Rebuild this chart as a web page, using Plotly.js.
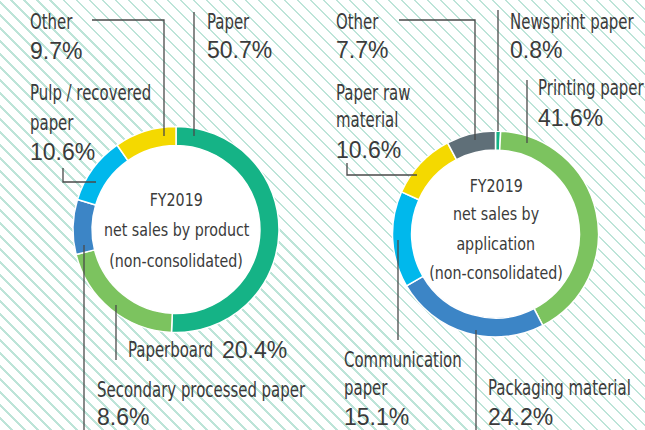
<!DOCTYPE html>
<html>
<head>
<meta charset="utf-8">
<script src="https://cdn.plot.ly/plotly-3.0.1.min.js"></script>
<style>
html,body{margin:0;padding:0;width:645px;height:430px;overflow:hidden;
background:#ffffff repeating-linear-gradient(45deg,#ffffff 0px,#ffffff 7.5px,#bde4d8 7.5px,#bde4d8 9.2px);}
#chart{width:645px;height:430px;}
</style>
</head>
<body>
<div id="chart"></div>
<script>
// ---- data ----
const productLabels = ['Paper', 'Paperboard', 'Secondary processed paper', 'Pulp / recovered paper', 'Other'];
const productValues = [50.7, 20.4, 8.6, 10.6, 9.7];
const applicationLabels = ['Newsprint paper', 'Printing paper', 'Packaging material', 'Communication paper', 'Paper raw material', 'Other'];
const applicationValues = [0.8, 41.6, 24.2, 15.1, 10.6, 7.7];
const productTitle = ['FY2019', 'net sales by product', '(non-consolidated)'];
const applicationTitle = ['FY2019', 'net sales by', 'application', '(non-consolidated)'];

// ---- styles ----
const productColors = ['#15b386', '#7cc35f', '#3c85c6', '#00b8ec', '#f4d900'];
const applicationColors = ['#15b386', '#7cc35f', '#3c85c6', '#00b8ec', '#f4d900', '#5f6f78'];
const W = 645, H = 430;
const px = x => x / W;
const py = y => 1 - y / H;
const TXT = '#3b3b3b';
const NARROW = '"DejaVu Sans Condensed", "DejaVu Sans", sans-serif';
const REG = '"Liberation Sans", Arial, sans-serif';
const LABEL_SIZE = 20.5, LABEL_SQUEEZE = 0.81;
const CENTER_SIZE = 18, CENTER_SQUEEZE = 0.88;

const donuts = [
  {cx: 176, cy: 229.5, r: 103},
  {cx: 495.5, cy: 234, r: 103}
];
const HOLE = 0.815;

function dom(d) {
  return {x: [px(d.cx - d.r), px(d.cx + d.r)], y: [py(d.cy + d.r), py(d.cy - d.r)]};
}
const pct = v => v.toFixed(1) + '%';

const traces = [
  {type: 'pie', labels: productLabels, values: productValues, sort: false, direction: 'clockwise',
   rotation: 0, hole: HOLE, domain: dom(donuts[0]), textinfo: 'none', hoverinfo: 'label+percent',
   marker: {colors: productColors, line: {color: '#ffffff', width: 1.5}}, showlegend: false},
  {type: 'pie', labels: applicationLabels, values: applicationValues, sort: false, direction: 'clockwise',
   rotation: 0, hole: HOLE, domain: dom(donuts[1]), textinfo: 'none', hoverinfo: 'label+percent',
   marker: {colors: applicationColors, line: {color: '#ffffff', width: 1.5}}, showlegend: false}
];

const annotations = [];
const squeeze = [];   // horizontal squeeze per annotation (condensed face)
function txt(t, x, y, font, size, anchor, sq) {
  annotations.push({text: t, x: px(x), y: py(y), xref: 'paper', yref: 'paper',
    xanchor: anchor || 'left', yanchor: 'middle', showarrow: false,
    font: {family: font, size: size, color: TXT}});
  squeeze.push(sq ? {k: sq, origin: (anchor === 'center' ? 'center' : 'left') + ' center'} : null);
}
function label(lines, value, x, y0, gap, pctY) {
  lines.forEach((l, i) => txt(l, x, y0 + i * gap, NARROW, LABEL_SIZE, 'left', LABEL_SQUEEZE));
  txt(pct(value), x, pctY, REG, 23);
}
// product donut labels
label(['Other'], productValues[4], 28, 22, 0, 51);
label(['Paper'], productValues[0], 205, 22, 0, 50);
label(['Pulp / recovered', 'paper'], productValues[3], 28, 93, 30, 152);
txt('Paperboard', 126, 350, NARROW, LABEL_SIZE, 'left', LABEL_SQUEEZE);
txt(pct(productValues[1]), 220, 350, REG, 23);
label(['Secondary processed paper'], productValues[2], 95, 390, 0, 417);
// application donut labels
label(['Other'], applicationValues[5], 334, 22, 0, 50);
label(['Newsprint paper'], applicationValues[0], 508, 22, 0, 50);
label(['Printing paper'], applicationValues[1], 536, 88, 0, 118);
label(['Paper raw', 'material'], applicationValues[4], 334, 93, 27, 150);
label(['Communication', 'paper'], applicationValues[3], 342, 360, 28, 417);
label(['Packaging material'], applicationValues[2], 486, 388, 0, 417);

// center titles
productTitle.forEach((t, i) => txt(t, donuts[0].cx, 200 + i * 30, NARROW, CENTER_SIZE, 'center', CENTER_SQUEEZE));
applicationTitle.forEach((t, i) => txt(t, donuts[1].cx, 185 + i * 29, NARROW, CENTER_SIZE, 'center', CENTER_SQUEEZE));

// shapes: white hole fills + leader lines
const shapes = donuts.map(d => {
  const ri = d.r * HOLE + 1;
  return {type: 'circle', xref: 'paper', yref: 'paper', layer: 'below',
    x0: px(d.cx - ri), x1: px(d.cx + ri), y0: py(d.cy + ri), y1: py(d.cy - ri),
    fillcolor: '#ffffff', line: {width: 0}};
});
function leader(pts) {
  const p = pts.map((q, i) => (i ? 'L' : 'M') + px(q[0]).toFixed(5) + ',' + py(q[1]).toFixed(5)).join(' ');
  shapes.push({type: 'path', xref: 'paper', yref: 'paper', path: p, layer: 'above',
    line: {color: '#4a4a4a', width: 1.3}});
}
leader([[92, 20], [164, 20], [164, 136]]);
leader([[194, 12], [194, 136]]);
leader([[63, 168], [63, 182], [96, 182]]);
leader([[116, 305], [116, 360]]);
leader([[84, 245], [84, 432]]);
leader([[399, 20], [475, 20], [475, 140]]);
leader([[498, 10], [498, 131]]);
leader([[527, 80], [527, 143]]);
leader([[347, 163], [347, 175], [417, 175]]);
leader([[398, 240], [398, 340]]);
leader([[476, 330], [476, 432]]);

const layout = {
  width: W, height: H, margin: {l: 0, r: 0, t: 0, b: 0},
  paper_bgcolor: 'rgba(0,0,0,0)', plot_bgcolor: 'rgba(0,0,0,0)',
  showlegend: false, annotations: annotations, shapes: shapes
};
Plotly.newPlot('chart', traces, layout, {staticPlot: true, displayModeBar: false}).then(gd => {
  gd.querySelectorAll('.annotation').forEach(a => {
    const i = +a.getAttribute('data-index');
    const s = squeeze[i];
    const t = a.querySelector('text.annotation-text');
    if (!s || !t) return;
    t.style.transformBox = 'fill-box';
    t.style.transformOrigin = s.origin;
    t.style.transform = 'scaleX(' + s.k + ')';
  });
});
</script>
</body>
</html>
